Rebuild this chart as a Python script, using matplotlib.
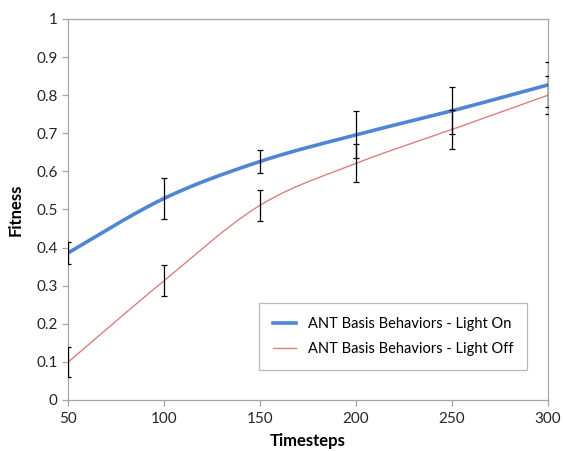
import numpy as np
import matplotlib
matplotlib.use('Agg')
import matplotlib.pyplot as plt

plt.rcParams['font.family'] = ['Lato', 'DejaVu Sans']

# data
timesteps = [50, 100, 150, 200, 250, 300]
light_on = [0.386, 0.529, 0.626, 0.696, 0.759, 0.827]
light_on_err = [0.028, 0.054, 0.031, 0.062, 0.062, 0.059]
light_off = [0.099, 0.313, 0.511, 0.621, 0.710, 0.800]
light_off_err = [0.039, 0.040, 0.040, 0.050, 0.050, 0.050]


def smooth(xs, ys, n=40):
    # Excel-style smoothed line (Catmull-Rom bezier through the points)
    xs = np.asarray(xs, float)
    ys = np.asarray(ys, float)
    px = np.concatenate([[xs[0]], xs, [xs[-1]]])
    py = np.concatenate([[ys[0]], ys, [ys[-1]]])
    ox, oy = [], []
    for i in range(1, len(px) - 2):
        p0 = np.array([px[i], py[i]])
        p3 = np.array([px[i + 1], py[i + 1]])
        c1 = p0 + (p3 - np.array([px[i - 1], py[i - 1]])) / 6
        c2 = p3 - (np.array([px[i + 2], py[i + 2]]) - p0) / 6
        t = np.linspace(0, 1, n)[:, None]
        b = (1 - t) ** 3 * p0 + 3 * (1 - t) ** 2 * t * c1 + 3 * (1 - t) * t ** 2 * c2 + t ** 3 * p3
        ox.extend(b[:, 0])
        oy.extend(b[:, 1])
    return ox, oy


fig = plt.figure(figsize=(5.63, 4.51), dpi=100)
ax = fig.add_axes([0.1208, 0.1131, 0.8526, 0.8448])

sx, sy = smooth(timesteps, light_on)
ax.plot(sx, sy, color='#4F86D4', lw=2.6, label='ANT Basis Behaviors - Light On', zorder=3)
sx, sy = smooth(timesteps, light_off)
ax.plot(sx, sy, color='#D98080', lw=1.0, label='ANT Basis Behaviors - Light Off', zorder=3)

ax.errorbar(timesteps, light_on, yerr=light_on_err, fmt='none', ecolor='black',
            elinewidth=0.9, capsize=2, capthick=0.9, zorder=4)
ax.errorbar(timesteps, light_off, yerr=light_off_err, fmt='none', ecolor='black',
            elinewidth=0.9, capsize=2, capthick=0.9, zorder=4)

ax.set_xlim(50, 300)
ax.set_ylim(0, 1)
ax.set_xticks(timesteps)
ax.set_yticks(np.arange(0, 1.01, 0.1))
ax.set_yticklabels(['0'] + ['%.1f' % v for v in np.arange(0.1, 0.95, 0.1)] + ['1'])

for s in ax.spines.values():
    s.set_color('#A6A6A6')
    s.set_linewidth(0.9)
ax.tick_params(colors='#A6A6A6', labelcolor='#262626', labelsize=11, length=4, width=0.9)
ax.tick_params(axis='x', pad=5)

ax.set_xlabel('Timesteps', fontsize=12, fontweight='bold', labelpad=5)
ax.set_ylabel('Fitness', fontsize=12, fontweight='bold', labelpad=9)

leg = ax.legend(loc='lower right', bbox_to_anchor=(0.956, 0.079), fontsize=10.5,
                frameon=True, fancybox=False, edgecolor='#A6A6A6', borderaxespad=0,
                handlelength=1.6, borderpad=0.95, labelspacing=0.75)
leg.get_frame().set_linewidth(0.9)

fig.savefig('out.png', dpi=100)
